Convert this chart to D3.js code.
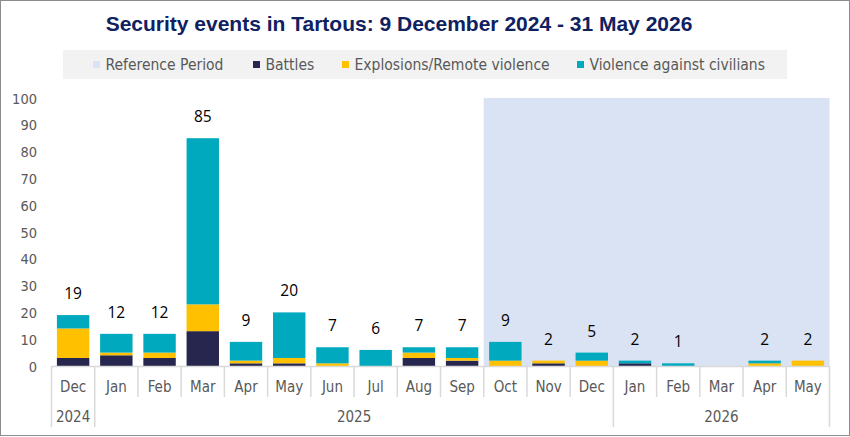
<!DOCTYPE html>
<html><head><meta charset="utf-8">
<script src="https://cdn.jsdelivr.net/npm/d3@7"></script>
<style>body{margin:0;background:#fff}svg{display:block}</style>
</head><body>
<script>
const months = ["Dec","Jan","Feb","Mar","Apr","May","Jun","Jul","Aug","Sep","Oct","Nov","Dec","Jan","Feb","Mar","Apr","May"];
const years = [{label:"2024",from:0,to:1},{label:"2025",from:1,to:13},{label:"2026",from:13,to:18}];
const battles    = [3,4,3,13,1,1,0,0,3,2,0,1,0,1,0,0,0,0];
const explosions = [11,1,2,10,1,2,1,0,2,1,2,1,2,0,0,0,1,2];
const civilians  = [5,7,7,62,7,17,6,6,2,4,7,0,3,1,1,0,1,0];
const yTicks = [0,10,20,30,40,50,60,70,80,90,100];
const referenceStart = 10; // Oct 2025
const seriesNames = ["Battles","Explosions/Remote violence","Violence against civilians"];
const colors = ["#26264f","#ffc000","#00a9bd"];
const refColor = "#dae3f3";

const W=850,H=437;
const svg=d3.select("body").append("svg").attr("width",W).attr("height",H);
const font="'DejaVu Sans Condensed','DejaVu Sans',sans-serif";

const x=d3.scaleBand().domain(d3.range(months.length)).range([51.5,829.5]).paddingInner(0.25).paddingOuter(0.125);
const y=d3.scaleLinear().domain([0,100]).range([366,98]);
const step=x.step();
const edge=i=>x.range()[0]+i*step;

// reference period
svg.append("rect").attr("x",edge(referenceStart)).attr("y",y(100))
  .attr("width",edge(months.length)-edge(referenceStart)).attr("height",y(0)-y(100)).attr("fill",refColor);

// stacks
const rows=months.map((m,i)=>({i,Battles:battles[i],"Explosions/Remote violence":explosions[i],"Violence against civilians":civilians[i]}));
const stack=d3.stack().keys(seriesNames)(rows);
stack.forEach((s,k)=>{
  svg.append("g").selectAll("rect").data(s).join("rect")
    .attr("x",d=>x(d.data.i)).attr("width",x.bandwidth())
    .attr("y",d=>y(d[1])).attr("height",d=>Math.max(0,y(d[0])-y(d[1])))
    .attr("fill",colors[k]);
});

// totals
const totals=months.map((m,i)=>battles[i]+explosions[i]+civilians[i]);
svg.append("g").selectAll("text").data(totals.map((t,i)=>({t,i})).filter(d=>d.t>0)).join("text")
  .attr("x",d=>x(d.i)+x.bandwidth()/2).attr("y",d=>y(d.t)-16)
  .attr("text-anchor","middle").attr("font-family","'Open Sans',sans-serif").attr("font-size",15.5)
  .attr("fill","#000").text(d=>d.t);

// y axis
const yAxis=d3.axisLeft(y).tickValues(yTicks).tickSize(0).tickPadding(0);
const ya=svg.append("g").attr("transform","translate(37,0)").call(yAxis);
ya.select(".domain").remove();
ya.selectAll("text").attr("font-family",font).attr("font-size",14.5).attr("fill","#595959").attr("dy","0.35em");

// category axis
const gridC="#d9d9d9";
svg.append("line").attr("x1",edge(0)).attr("x2",edge(months.length)).attr("y1",y(0)+0.5).attr("y2",y(0)+0.5).attr("stroke",gridC).attr("stroke-width",1.5);
const yearEdges=new Set(years.flatMap(d=>[d.from,d.to]));
svg.append("g").selectAll("line").data(d3.range(months.length+1)).join("line")
  .attr("x1",i=>edge(i)).attr("x2",i=>edge(i)).attr("y1",y(0))
  .attr("y2",i=>yearEdges.has(i)?427:397).attr("stroke",gridC).attr("stroke-width",1.5);
svg.append("g").selectAll("text").data(months).join("text")
  .attr("x",(m,i)=>x(i)+x.bandwidth()/2).attr("y",387).attr("dy","0.35em")
  .attr("text-anchor","middle").attr("font-family",font).attr("font-size",15).attr("fill","#595959").text(d=>d);
svg.append("g").selectAll("text").data(years).join("text")
  .attr("x",d=>(edge(d.from)+edge(d.to))/2).attr("y",417).attr("dy","0.35em")
  .attr("text-anchor","middle").attr("font-family",font).attr("font-size",15).attr("fill","#595959").text(d=>d.label);

// title
svg.append("text").attr("x",399).attr("y",31).attr("text-anchor","middle")
  .attr("font-family","'Liberation Sans Narrow','Arial Narrow',sans-serif").attr("font-weight","bold")
  .attr("font-size",21).attr("fill","#0f2160").text("Security events in Tartous: 9 December 2024 - 31 May 2026");

// legend
svg.append("rect").attr("x",63).attr("y",50).attr("width",724).attr("height",29).attr("fill","#f2f2f2");
const legItems=[{n:"Reference Period",c:refColor,sx:93},{n:"Battles",c:colors[0],sx:253},{n:"Explosions/Remote violence",c:colors[1],sx:342},{n:"Violence against civilians",c:colors[2],sx:577}];
const lg=svg.append("g").selectAll("g").data(legItems).join("g");
lg.append("rect").attr("x",d=>d.sx).attr("y",61).attr("width",7).attr("height",7).attr("fill",d=>d.c);
lg.append("text").attr("x",d=>d.sx+12.5).attr("y",64.5).attr("dy","0.35em")
  .attr("font-family",font).attr("font-size",15.5).attr("fill","#595959").text(d=>d.n);

// border
svg.append("rect").attr("x",0.5).attr("y",0.5).attr("width",W-1).attr("height",H-2).attr("fill","none").attr("stroke","#8c8c8c");
</script>
</body></html>
